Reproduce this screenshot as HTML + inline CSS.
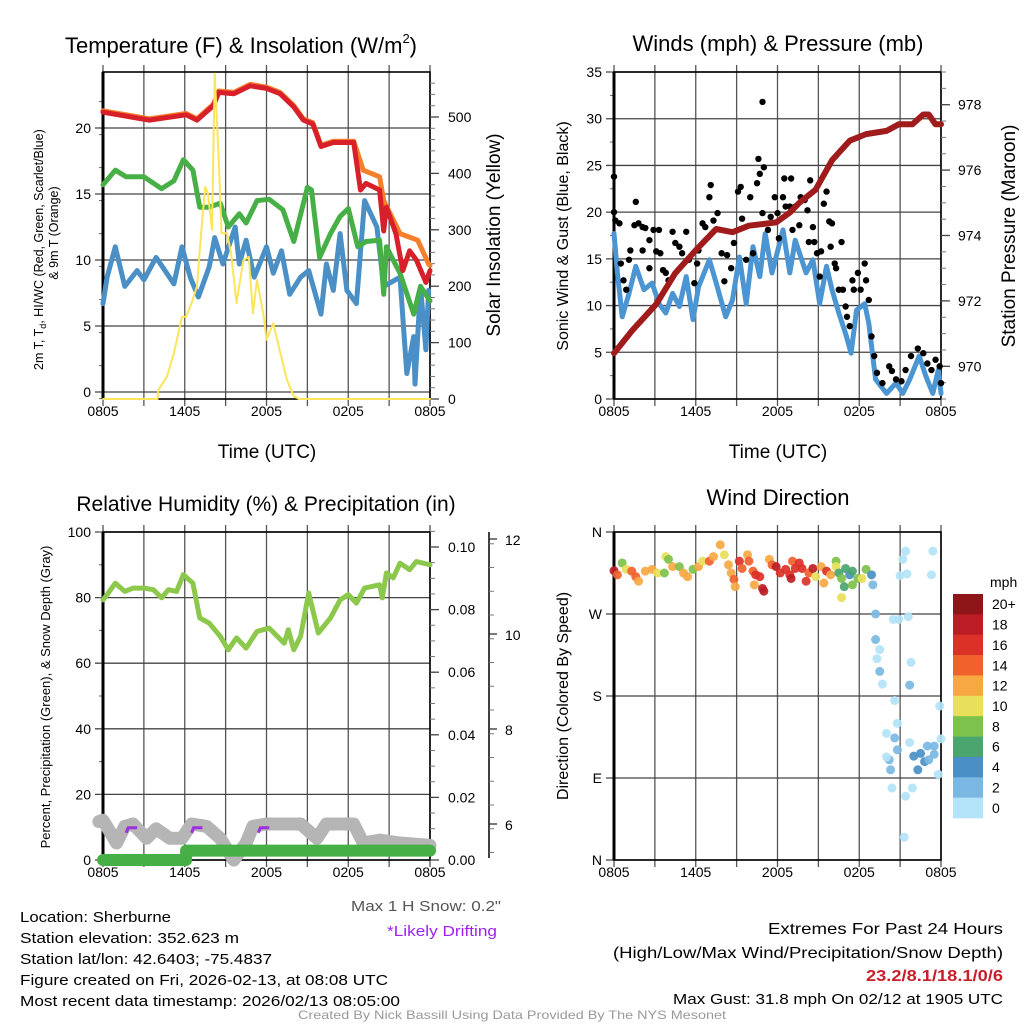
<!DOCTYPE html>
<html><head><meta charset="utf-8"><style>
html,body{margin:0;padding:0;background:#fff}
svg{display:block;font-family:"Liberation Sans",Arial,sans-serif}
</style></head><body>
<svg id="s" width="1024" height="1024" viewBox="0 0 1024 1024" xmlns="http://www.w3.org/2000/svg">
<rect width="1024" height="1024" fill="#fff"/>
<g id="p1"></g>
<g id="p2"></g>
<g id="p3"></g>
<g id="p4"></g>
<g id="txt" font-size="15" fill="#000">
<text x="20" y="922" textLength="151" lengthAdjust="spacingAndGlyphs">Location: Sherburne</text>
<text x="20" y="943" textLength="219" lengthAdjust="spacingAndGlyphs">Station elevation: 352.623 m</text>
<text x="20" y="964" textLength="252" lengthAdjust="spacingAndGlyphs">Station lat/lon: 42.6403; -75.4837</text>
<text x="20" y="985" textLength="368" lengthAdjust="spacingAndGlyphs">Figure created on Fri, 2026-02-13, at 08:08 UTC</text>
<text x="20" y="1006" textLength="380" lengthAdjust="spacingAndGlyphs">Most recent data timestamp: 2026/02/13 08:05:00</text>
<text x="351" y="911" textLength="150" lengthAdjust="spacingAndGlyphs" fill="#555">Max 1 H Snow: 0.2"</text>
<text x="387" y="936" textLength="110" lengthAdjust="spacingAndGlyphs" fill="#a020f0">*Likely Drifting</text>
<text x="1003" y="934" text-anchor="end" font-size="16" textLength="235" lengthAdjust="spacingAndGlyphs">Extremes For Past 24 Hours</text>
<text x="1003" y="958" text-anchor="end" font-size="16" textLength="390" lengthAdjust="spacingAndGlyphs">(High/Low/Max Wind/Precipitation/Snow Depth)</text>
<text x="1003" y="981" text-anchor="end" font-size="16" font-weight="bold" fill="#c8202a" textLength="137" lengthAdjust="spacingAndGlyphs">23.2/8.1/18.1/0/6</text>
<text x="1003" y="1004" text-anchor="end" textLength="330" lengthAdjust="spacingAndGlyphs">Max Gust: 31.8 mph On 02/12 at 1905 UTC</text>
<text x="512" y="1019" text-anchor="middle" font-size="12" fill="#999" textLength="428" lengthAdjust="spacingAndGlyphs">Created By Nick Bassill Using Data Provided By The NYS Mesonet</text>
</g>
</svg>
<script>
// ---------- data ----------
const xTickLabels=["0805","1405","2005","0205","0805"];
const tempH=[0,3.4,6.1,6.9,8.1,8.5,9.6,10.8,12,13,14,14.7,15.4,16,16.9,18.4,18.9,19.3,20.3,20.6,20.8,21.5,22,22.5,23,23.7,24];
const tempV=[21.2,20.6,21.0,20.6,21.7,22.7,22.6,23.2,23.0,22.6,21.6,20.6,20.3,18.6,18.9,18.9,15.3,15.8,15.3,12.2,14,12,9.2,10.7,10,8.3,9.2];
const t9H=[0,3.4,6.1,6.9,8.1,8.5,9.6,10.8,12,13,14,14.7,15.4,16,16.9,18.4,19.1,20.3,20.6,21.8,23.1,23.9,24];
const t9V=[21.3,20.7,21.1,20.7,21.8,22.8,22.7,23.3,23.1,22.7,21.7,20.7,20.4,18.7,19.0,19.0,16.8,16.3,14.5,12,11.5,9.7,9.6];
const tdH=[0,0.9,1.7,3,4.3,5.2,5.9,6.6,7.1,7.8,8.6,9.2,10,10.5,11.3,12.2,13.2,14,15,15.3,15.9,16.7,17.4,18,18.7,19.3,20.3,20.6,20.8,21.8,22.8,23.3,24];
const tdV=[15.7,16.8,16.3,16.3,15.4,16.0,17.6,16.8,14.0,14,14.3,12.5,13.5,12.8,14.5,14.6,13.8,11.4,15.5,15.3,10.2,12,13.3,13.9,11,11.4,11.5,7.4,11,9,5.9,8,6.9];
const wcH=[0,0.3,0.9,1.6,2.5,3,3.9,5.2,5.8,6.4,7,7.8,8.2,8.8,9.7,10,10.5,11.1,12,12.5,13.1,13.7,14.5,15.1,16,16.4,16.9,17.4,17.9,18.6,19.2,20.1,20.6,21.8,22.3,22.8,22.9,23.3,23.7,23.9];
const wcV=[6.7,8.7,11,8,9.2,8.5,10.2,8.2,11,8.7,7.2,9.5,11.7,9.7,12.5,9.7,11.5,8.7,11,9,10.7,7.4,8.7,9.2,5.9,9.7,7.7,12,7.7,6.7,14.5,12.5,8,8.7,1.4,4.2,0.6,8,3.2,7.7];
const solarH=[0,4,4.06,4.7,5.2,5.8,6.1,6.5,6.9,7.2,7.5,7.7,8,8.2,8.5,8.7,9.1,9.4,9.8,10.3,10.7,11,11.3,11.8,12,12.5,12.9,13.5,14,14.4,24];
const solarV=[0,0,16,40,81,146,146,170,200,294,376,364,300,577,423,294,294,258,170,246,252,152,211,146,105,134,93,34,5,0,0];
const windH=[0,0.25,0.6,1.1,1.6,2.2,2.8,3.3,3.8,4.3,4.8,5.3,5.8,6.2,7,7.5,8.2,8.7,9.2,9.7,10.2,10.7,11.1,11.6,12.4,12.9,13.3,14.1,14.6,15.1,15.6,16,16.5,17,17.4,17.8,18.4,18.7,19.2,20,20.7,21.2,21.7,22.4,22.9,23.4,23.8,24];
const windV=[17.7,13.5,8.8,11.3,14.2,11.7,12.4,10.2,9.2,11.3,9.9,13.1,8.5,12,14.9,12.4,8.8,10.6,15.2,10.2,16.3,13.1,17.7,13.5,18.1,13.5,17,13.5,14.9,10.2,14.2,11.7,9.2,7,4.9,9.5,10.2,8.1,2.1,0.6,1.7,0.6,2.1,4.6,2.4,0.6,3.1,0.6];
const gustH=[0,0,0.1,0.4,0.5,0.7,0.9,1.1,1.2,1.5,1.6,1.8,2.1,2.3,2.1,2.6,2.9,2.6,3.1,3.3,3.4,3.6,3.8,4,4.3,4.5,4.8,5,5.3,5.5,5.9,6.1,6.2,6.5,6.7,7,7.1,7.3,7.6,7.9,8.1,8.3,8.6,8.8,9.1,9.3,9.4,9.7,10,10.2,10.5,10.6,10.7,10.9,11,10.9,11.3,11.5,11.8,12,12.1,12.4,12.5,12.6,12.9,13,13.1,13.3,13.6,13.7,14,14.2,14.3,14.4,14.6,14.7,14.9,15.1,15.2,15.4,15.6,15.8,16,15.9,16.7,16.2,16.3,16.5,16.8,17,17.1,17.3,17.5,17.6,17.9,18.1,18.4,18.5,18.7,18.9,19.1,19.3,19.7,20.2,20.4,20.7,21.1,21.4,21.8,22.3,22.7,23,23.3,23.6,23.9,24];
const gustV=[23.8,20,19.1,18.8,14.5,12.7,11.7,14.9,15.9,18.6,21.1,18.8,18.4,18.3,15.9,17,18.1,14,15.8,18.1,15.6,13.8,13.5,12.7,17.9,16.7,16.3,15.6,17.9,14.9,12.4,14.5,15.9,18.8,18.4,21.6,22.9,19.1,19.9,15.6,12.6,15.4,14,16.7,22.2,22.7,19.3,14.9,21.6,15.6,23.1,25.7,24.1,31.8,24.8,19.9,18.1,19.5,21.6,19.9,17.2,21.6,23.6,20.6,20.6,23.6,18.1,20.6,18.6,21.6,21.3,20.2,16.8,23.4,18.4,16.8,15.6,13.1,15.8,20.9,22.2,19,18.8,16.3,16.8,14.5,14,11.7,11.7,9.9,8.8,7.8,12.7,11.7,13.5,11.7,14.5,12.7,10.6,6.7,4.6,2.8,1.7,3.5,3,2.1,1.9,3.1,4.6,5.4,4.9,3.8,3.1,4.2,3.5,1.7];
const presH=[0,1.35,3.1,4.5,6,7.5,8.7,9.9,11.9,12.9,13.6,14.8,16,17.3,18.5,20,20.9,21.9,22.7,23.1,23.6,24];
const presV=[970.4,971.1,971.9,972.85,973.55,974.2,974.1,974.3,974.4,974.7,975.0,975.4,976.3,976.9,977.1,977.2,977.4,977.4,977.7,977.7,977.4,977.4];
const rhH=[0,0.3,0.9,1.6,2.2,3,3.7,4.3,4.8,5.4,5.9,6.6,7.1,7.8,8.6,9.2,9.8,10.5,11.3,12.2,13.3,13.6,14,14.5,15.1,15.8,16.7,17.4,18,18.6,19.2,20.3,20.5,20.8,21.3,21.8,22.5,23,24];
const rhV=[79.3,80.9,84.4,81.9,82.9,82.9,82.4,79.9,82.4,81.9,87,84.4,73.8,72.2,68.2,64.1,67.7,64.6,69.7,70.7,66.1,70.2,64.1,68.2,81.4,69.2,73.8,79.3,80.9,78.3,82.9,83.9,79.9,87.5,86,90.5,88.5,91,90];
const precipH=[0,6.1,6.1,24];
const precipV=[0,0,0.003,0.003];
const snowH=[-0.3,0,1,1.6,2.2,3.2,3.9,4.9,5.8,6.5,7.6,8.6,9.6,10.5,11,12,14.5,15.7,16.4,18.4,19.1,20.3,21.8,24];
const snowV=[6.05,6.08,5.6,5.95,6.0,5.7,5.9,5.7,5.7,6.0,5.95,5.7,5.24,5.6,5.95,6.0,6.0,5.7,6.0,6.0,5.6,5.66,5.6,5.55];
const driftStart=[1.7,6.5,11.4];
const driftEnd=[2.5,7.3,12.2];
const driftV=[5.92,5.92,5.92];
const dirH=[0,0.25,0.6,0.9,1.3,1.6,1.8,2.3,2.8,3.2,3.7,3.8,4.0,4.3,4.8,5.1,5.4,5.8,6.2,6.5,7,7.3,7.8,8.1,8.4,8.6,8.8,8.9,9.2,9.4,9.8,9.9,10.2,10.4,10.7,10.3,10.9,11,11.4,11.6,11.9,12.2,12.6,12.9,13,13.1,13.3,13.6,13.8,14.1,14.3,14.6,14.8,15.2,15.6,15.4,15.9,16.3,16.3,16.5,16.7,16.9,16.7,17,17.3,17.5,17.5,17.9,18.2,18.5,18.9,19,19.2,19.2,19.5,19.3,19.5,19.7,20.6,20,20.6,20.8,20.2,20.3,20,20.4,20.8,21.4,21.3,20.5,20.9,21.6,21.8,21.7,21.7,21.9,21.4,21.2,21,21.5,22,22.3,22.5,22.8,23,23.5,23.5,23.4,23.3,23.9,24,23.8,23.1];
const dirV=[317.5,313,326,319,317,311,306,317,319,315,315,333,330,322,322,315,311,319,322,328,328,333,346,335,324,315,308,300,328,320,335,328,317,313,311,302,298,295,330,324,322,315,319,313,309,328,320,326,320,306,315,320,311,322,317,304,313,328,322,315,309,300,288,320,313,317,302,309,309,319,313,302,270,242,231,221,207,193,175,139,134,121,110,99,113,79,150,70,25,264,264,267,217,192,129,79,339,330,312,314,114,99,117,108,125,125,116,339,313,169,133,94,110];
const dirSpd=[18,14,8,10,14,14,12,12,12,10,8,10,8,12,8,12,12,8,12,10,14,12,12,10,12,12,14,12,16,14,12,14,14,16,16,12,18,18,12,14,18,16,16,16,18,14,16,16,16,16,14,18,10,12,16,12,12,8,10,6,8,6,10,6,4,6,8,8,10,8,4,2,2,2,0,0,2,0,0,0,2,2,2,2,0,0,0,0,0,0,0,0,0,2,0,0,0,0,0,0,4,4,4,4,2,2,2,0,0,0,0,0,2];
const speedClasses=["20+","18","16","14","12","10","8","6","4","2","0"];
const speedColors=["#8e1518","#bd1e25","#dc3127","#f0612c","#f7a843","#e8e05a","#7dc24a","#4aa56e","#4a8fc6","#7ab8e3","#b3e3f8"];

// ---------- helpers ----------
const NS="http://www.w3.org/2000/svg";
function mk(parent,tag,attrs,text){const e=document.createElementNS(NS,tag);for(const k in attrs)e.setAttribute(k,attrs[k]);if(text!==undefined)e.textContent=text;parent.appendChild(e);return e;}
function lin(d0,d1,r0,r1){return v=>r0+(v-d0)*(r1-r0)/(d1-d0);}
function pathD(H,V,sx,sy){return H.map((h,i)=>(i?"L":"M")+sx(H[i]).toFixed(1)+","+sy(V[i]).toFixed(1)).join("");}
function series(g,H,V,sx,sy,color,w,name){const p=mk(g,"path",{d:pathD(H,V,sx,sy),fill:"none",stroke:color,"stroke-width":w,"stroke-linejoin":"round","stroke-linecap":"round"});


return p;}
function txt(g,x,y,s,attrs,name){const t=mk(g,"text",Object.assign({x:x,y:y},attrs),s);


return t;}
function frame(g,x0,x1,y0,y1,sy,lMaj,lMin,lLab,hGrid){
  const sx=lin(0,24,x0,x1);
  for(let h=0;h<=24;h+=3){const l=mk(g,"line",{x1:sx(h),x2:sx(h),y1:y0-7,y2:y1+7,stroke:"#555","stroke-width":1.3});
    
    }
  for(let i=0;i<5;i++){txt(g,sx(i*6),y1+17,xTickLabels[i],{"font-size":14,"text-anchor":"middle"},'x-tick-label');}
  hGrid.forEach(v=>{const l=mk(g,"line",{x1:x0-8,x2:x1,y1:sy(v),y2:sy(v),stroke:"#444","stroke-width":1.3});
    
    });
  lMin.forEach(v=>{mk(g,"line",{x1:x0-4,x2:x0,y1:sy(v),y2:sy(v),stroke:"#666","stroke-width":1});});
  lMaj.forEach((v,i)=>{txt(g,x0-12,sy(v)+5,lLab[i],{"font-size":14,"text-anchor":"end"},'y-tick-label');});
  const fr=mk(g,"rect",{x:x0,y:y0,width:x1-x0,height:y1-y0,fill:"none",stroke:"#000","stroke-width":1.6});
  
  
  mk(g,"line",{x1:x0,x2:x0,y1:y0,y2:y1,stroke:"#000","stroke-width":3});
  return sx;
}
function rightAxis(g,x,sy,maj,labs,mins,name,lx){
  mins.forEach(v=>mk(g,"line",{x1:x,x2:x+5,y1:sy(v),y2:sy(v),stroke:"#777","stroke-width":1}));
  maj.forEach((v,i)=>{mk(g,"line",{x1:x,x2:x+9,y1:sy(v),y2:sy(v),stroke:"#444","stroke-width":1.3});
    txt(g,lx,sy(v)+5,labs[i],{"font-size":14},name);});
}
function range(a,b,s){const r=[];for(let v=a;v<=b+1e-9;v+=s)r.push(+v.toFixed(4));return r;}

// ---------- panel 1 ----------
(function(){
const g=document.getElementById("p1");
const y0=72,y1=399;
const sy=lin(0,1,392,378.8), sr=lin(0,500,399,117);
const sx=frame(g,103,430,y0,y1,sy,[0,5,10,15,20],range(-0.5,24,2.5),["0","5","10","15","20"],[0,5,10,15,20]);
rightAxis(g,430,sr,[0,100,200,300,400,500],["0","100","200","300","400","500"],range(0,560,20),'solar-tick-label',448);
const cg=mk(g,"g",{"clip-path":"url(#c1)"});
mk(mk(g,"clipPath",{id:"c1"}),"rect",{x:100,y:y0-2,width:333,height:y1-y0+4});
series(cg,wcH,wcV,sx,sy,"#4a8fc6",5,'hiwc-line');
series(cg,tdH,tdV,sx,sy,"#46b046",5,'dewpoint-line');
series(cg,t9H,t9V,sx,sy,"#f57f2a",5,'temp-9m-line');
series(cg,tempH,tempV,sx,sy,"#d8202a",5,'temp-2m-line');
series(cg,solarH,solarV,sx,sr,"#fce55a",2,'solar-line');
const tt=txt(g,65,53,"Temperature (F) & Insolation (W/m",{"font-size":22},'panel-title');
mk(tt,"tspan",{"font-size":13,dy:-10},"2");
mk(tt,"tspan",{dy:10},")");
txt(g,267,458,"Time (UTC)",{"font-size":19,"text-anchor":"middle"},'x-axis-title');
const t1=txt(g,0,0,"2m T, T",{"font-size":12.5,transform:"translate(43,370) rotate(-90)"},'y-axis-title');
mk(t1,"tspan",{"font-size":9,dy:3},"d");
mk(t1,"tspan",{dy:-3},", HI/WC (Red, Green, Scarlet/Blue)");
txt(g,0,0,"& 9m T (Orange)",{"font-size":12.5,"text-anchor":"middle",transform:"translate(58,233) rotate(-90)"},'y-axis-title-line2');
txt(g,0,0,"Solar Insolation (Yellow)",{"font-size":19,"text-anchor":"middle",transform:"translate(500,235) rotate(-90)"},'right-axis-title');
})();

// ---------- panel 2 ----------
(function(){
const g=document.getElementById("p2");
const y0=72,y1=399;
const sy=lin(0,35,399,72), sp=lin(969,979,399,72);
const sx=frame(g,614,941,y0,y1,sy,range(0,35,5),range(0,35,2.5),["0","5","10","15","20","25","30","35"],range(0,35,5));
rightAxis(g,941,sp,[970,972,974,976,978],["970","972","974","976","978"],range(969,979,0.5),'pressure-tick-label',958);
series(g,windH,windV,sx,sy,"#4a95d2",5,'sonic-wind-line');
gustH.forEach((h,i)=>{const c=mk(g,"circle",{cx:sx(h),cy:sy(gustV[i]),r:3.2,fill:"#000"});
  
  });
series(g,presH,presV,sx,sp,"#a01c1c",6,'pressure-line');
txt(g,778,51,"Winds (mph) & Pressure (mb)",{"font-size":22,"text-anchor":"middle"},'panel-title');
txt(g,778,458,"Time (UTC)",{"font-size":19,"text-anchor":"middle"},'x-axis-title');
txt(g,0,0,"Sonic Wind & Gust (Blue, Black)",{"font-size":16,"text-anchor":"middle",transform:"translate(568,236) rotate(-90)"},'y-axis-title');
txt(g,0,0,"Station Pressure (Maroon)",{"font-size":19,"text-anchor":"middle",transform:"translate(1015,236) rotate(-90)"},'right-axis-title');
})();

// ---------- panel 3 ----------
(function(){
const g=document.getElementById("p3");
const y0=532,y1=860;
const sy=lin(0,100,860,532), sp=lin(0,0.1,860,547), ss=lin(6,12,824,539);
const sx=frame(g,103,430,y0,y1,sy,range(0,100,20),range(0,100,10),["0","20","40","60","80","100"],range(0,100,20));
rightAxis(g,430,sp,range(0,0.1,0.02),["0.00","0.02","0.04","0.06","0.08","0.10"],range(0,0.105,0.005),'precip-tick-label',448);
mk(g,"line",{x1:489,x2:489,y1:532,y2:858,stroke:"#000","stroke-width":1.5});
range(5.4,12.2,0.5).forEach(v=>mk(g,"line",{x1:489,x2:494,y1:ss(v),y2:ss(v),stroke:"#777","stroke-width":1}));
[6,8,10,12].forEach(v=>{mk(g,"line",{x1:489,x2:497,y1:ss(v),y2:ss(v),stroke:"#333","stroke-width":1.3});
  txt(g,505,ss(v)+6,String(v),{"font-size":14},'snow-tick-label');});
series(g,snowH,snowV,sx,ss,"#b5b5b5",13,'snow-depth-line');
driftStart.forEach((h,i)=>{const d=mk(g,"path",{d:"M"+sx(h)+","+(ss(driftV[i])+5)+"L"+sx(h+0.15)+","+ss(driftV[i])+"L"+sx(driftEnd[i])+","+ss(driftV[i]),stroke:"#9b30e0","stroke-width":3,fill:"none"});
  
  });
series(g,precipH,precipV,sx,sp,"#46b046",12,'precip-line');
series(g,rhH,rhV,sx,sy,"#8cc84b",5,'rh-line');
txt(g,266,511,"Relative Humidity (%) & Precipitation (in)",{"font-size":21,"text-anchor":"middle"},'panel-title');
txt(g,0,0,"Percent, Precipitation (Green), & Snow Depth (Gray)",{"font-size":13,"text-anchor":"middle",transform:"translate(50,697) rotate(-90)"},'y-axis-title');
})();

// ---------- panel 4 ----------
(function(){
const g=document.getElementById("p4");
const y0=532,y1=860;
const sy=lin(0,360,860,532);
const sx=frame(g,614,941,y0,y1,sy,[0,90,180,270,360],[],["N","E","S","W","N"],[0,90,180,270,360]);
dirH.forEach((h,i)=>{const ci=10-Math.min(10,Math.round(dirSpd[i]/2));
  const c=mk(g,"circle",{cx:sx(h),cy:sy(dirV[i]),r:4.5,fill:speedColors[ci],"fill-opacity":0.92});
  
  });
txt(g,778,505,"Wind Direction",{"font-size":22,"text-anchor":"middle"},'panel-title');
txt(g,0,0,"Direction (Colored By Speed)",{"font-size":16,"text-anchor":"middle",transform:"translate(568,696) rotate(-90)"},'y-axis-title');
const cb=mk(g,"g",{});


const h=224/11;
speedClasses.forEach((s,i)=>{const r=mk(cb,"rect",{x:953,y:594+i*h,width:30,height:h+0.3,fill:speedColors[i]});
  
  
  txt(cb,992,594+i*h+h/2+5,s,{"font-size":14},'colorbar-label');});
txt(cb,990,587,"mph",{"font-size":14},'colorbar-title');
})();
</script>
</body></html>
